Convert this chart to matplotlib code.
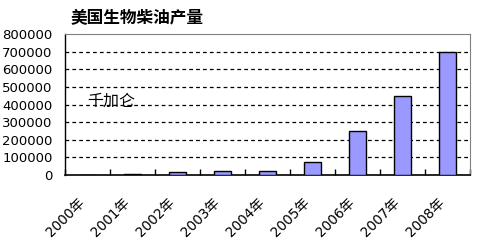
import matplotlib.pyplot as plt
import matplotlib.transforms as mtransforms
import numpy as np

plt.rcParams['font.family'] = ['DejaVu Sans', 'Noto Sans CJK SC']

years = ['2000年', '2001年', '2002年', '2003年', '2004年',
         '2005年', '2006年', '2007年', '2008年']
output = [500, 5000, 15000, 20000, 25000, 75000, 250000, 450000, 700000]
yticks = [0, 100000, 200000, 300000, 400000, 500000, 600000, 700000, 800000]

fig = plt.figure(figsize=(4.8, 2.44), dpi=100)
ax = fig.add_axes([65/480, 1-175/244, 405/480, 141/244])

x = np.arange(len(years))
ax.bar(x, output, width=0.38, color='#9999FF', edgecolor='black', linewidth=1, zorder=3)

ax.set_xlim(-0.5, len(years) - 0.5)
ax.set_ylim(0, 800000)
ax.set_yticks(yticks)
ax.set_yticklabels([str(v) for v in yticks], fontsize=9.5)
ax.tick_params(axis='y', length=0, pad=9)

for v in yticks[1:-1]:
    ax.axhline(v, color='black', linestyle=(0, (3, 2.5)), linewidth=0.9, zorder=1)

# ticks between categories, labels at category centres
ax.set_xticks(np.arange(len(years) + 1) - 0.5, minor=False)
ax.set_xticklabels([])
ax.tick_params(axis='x', which='major', direction='in', length=4, width=1, color='black')
ax.set_xticks(x, minor=True)
ax.set_xticklabels(years, minor=True, rotation=45, ha='right',
                   rotation_mode='anchor', fontsize=9.8)
ax.tick_params(axis='x', which='minor', length=0, pad=15)
offset = mtransforms.ScaledTranslation(-10/100, 0, fig.dpi_scale_trans)
for lab in ax.get_xticklabels(minor=True):
    lab.set_transform(lab.get_transform() + offset)

ax.spines['left'].set_color('black')
ax.spines['bottom'].set_color('black')
ax.spines['top'].set_color('#808080')
ax.spines['right'].set_color('#808080')
ax.spines['left'].set_linewidth(1)
ax.spines['bottom'].set_linewidth(1.2)

ax.text(0.055, 0.52, '千加仑', transform=ax.transAxes, fontsize=11.5,
        va='center', ha='left', color='black')

fig.text(137/480, 1-18/244, '美国生物柴油产量', fontsize=12, fontweight='bold',
         ha='center', va='center')

fig.savefig('out.png', dpi=100)
